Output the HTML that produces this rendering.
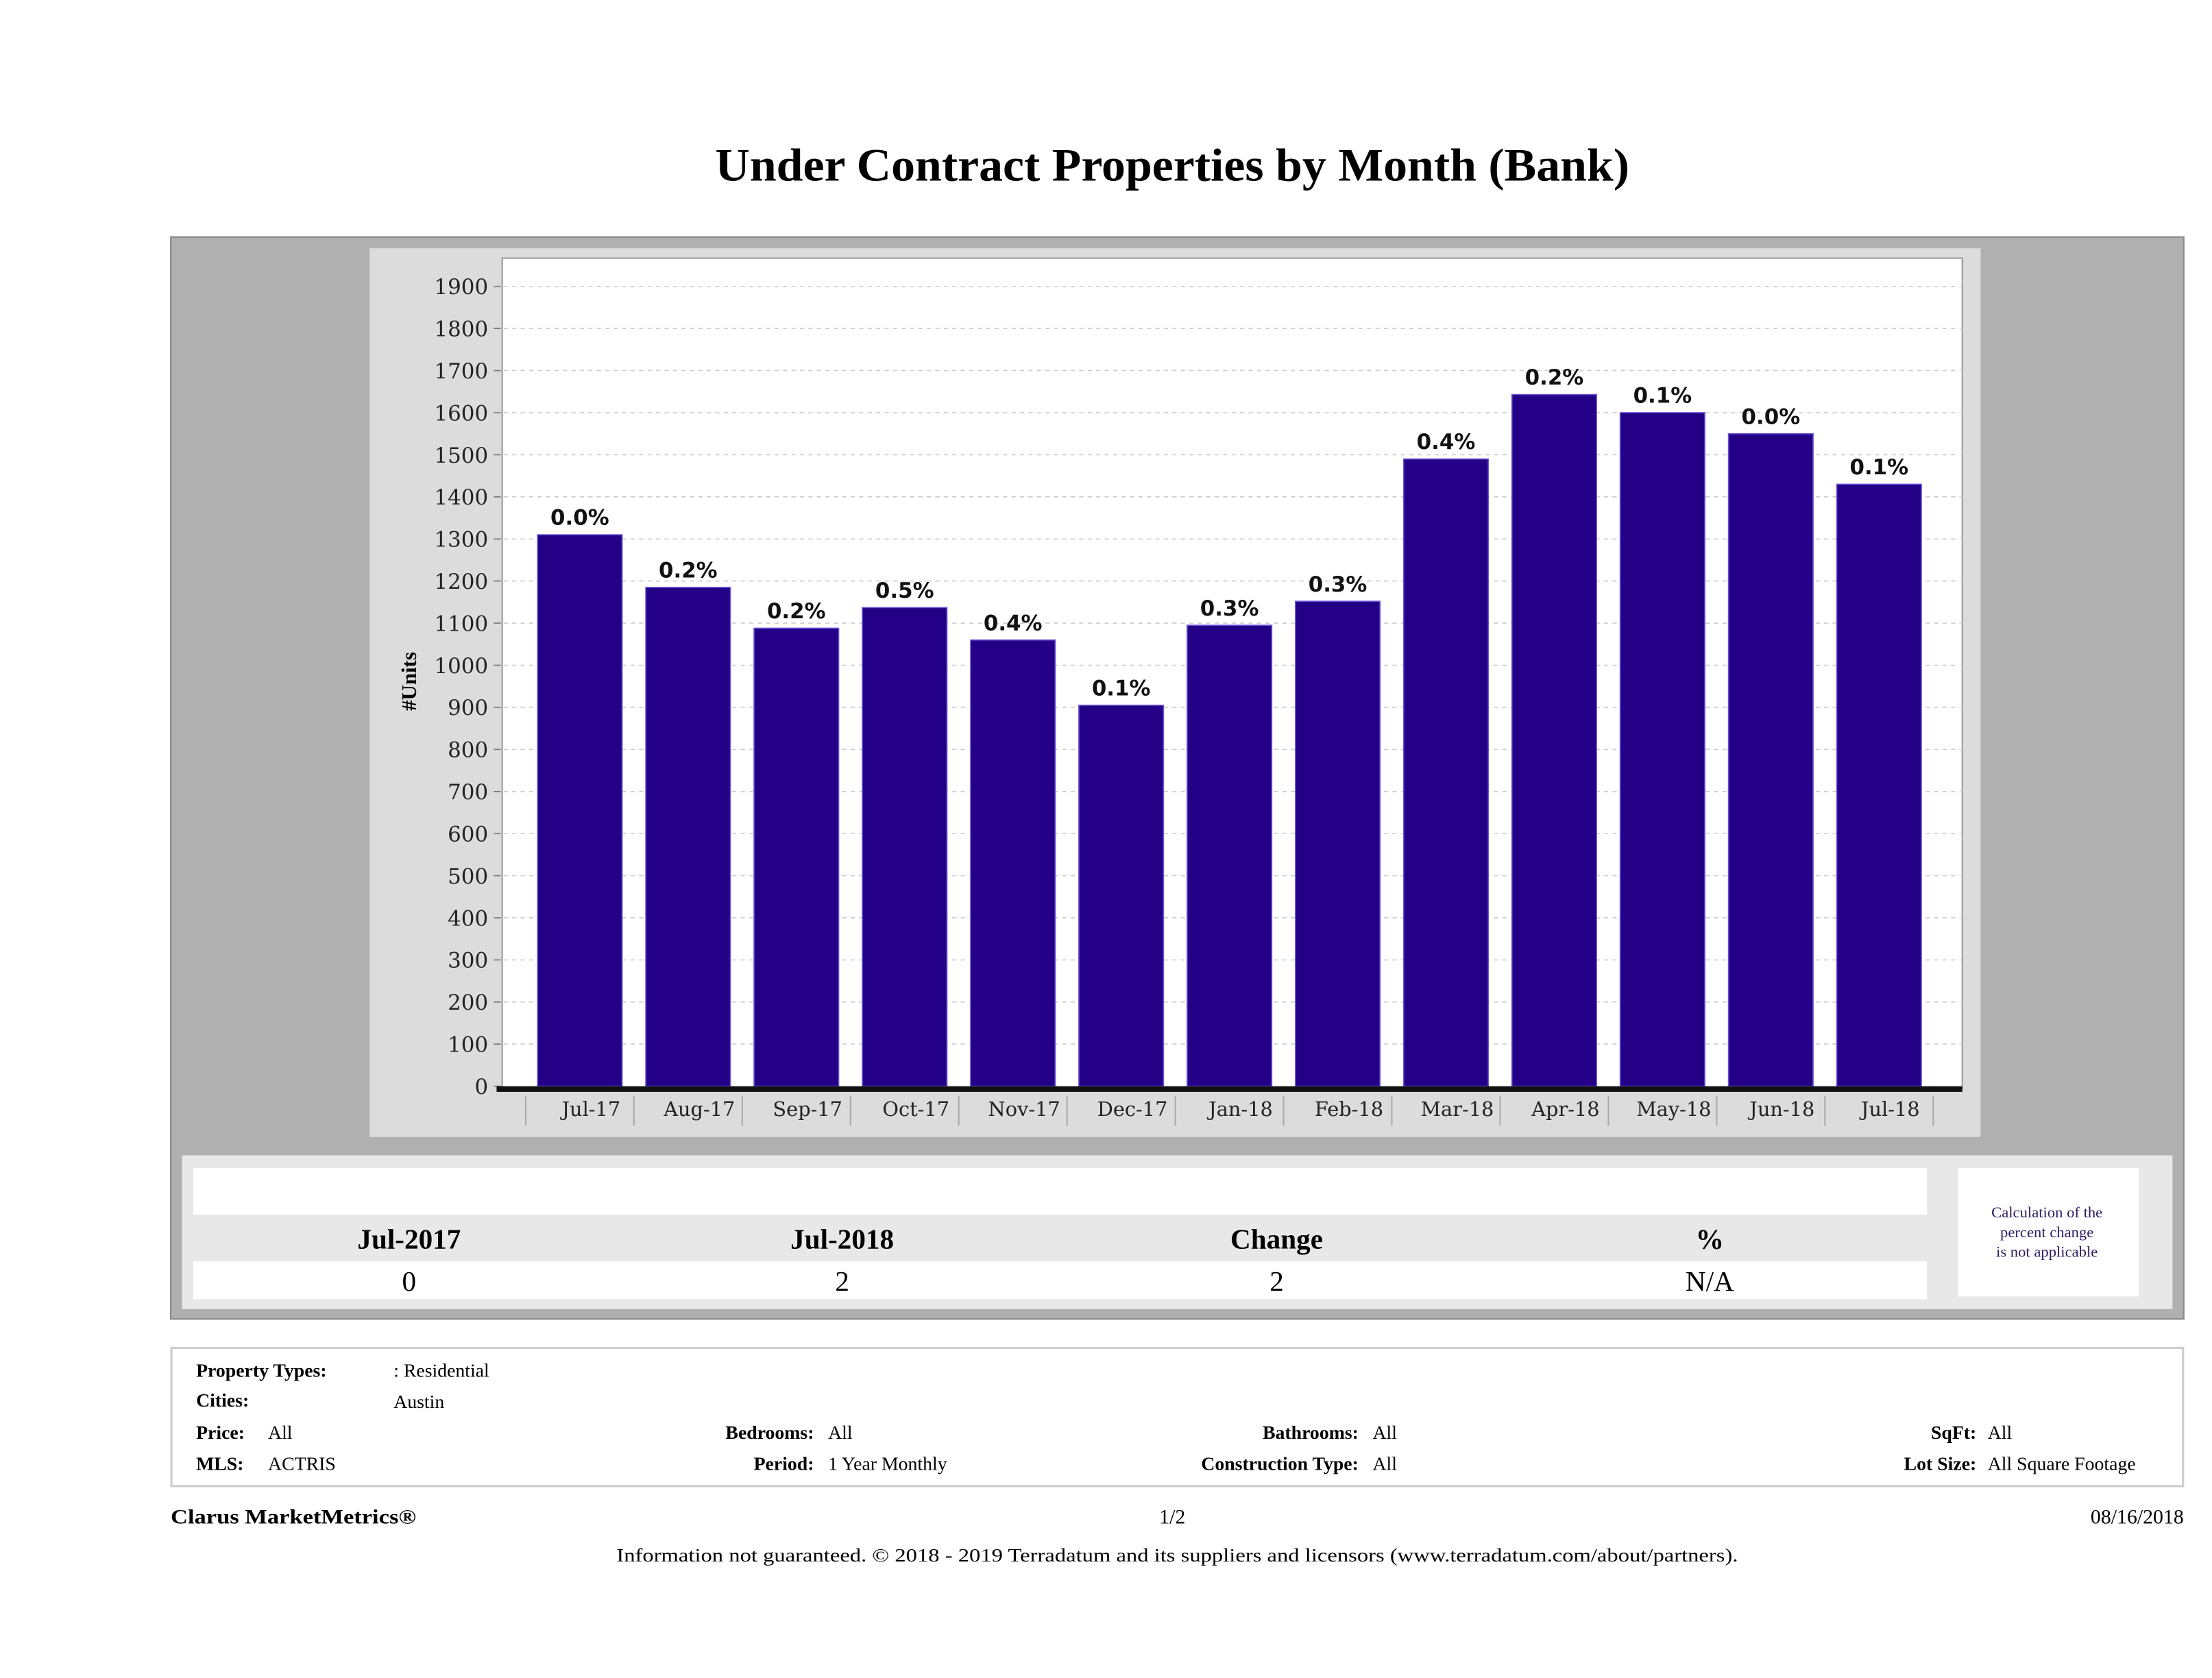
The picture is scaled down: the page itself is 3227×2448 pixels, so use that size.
<!DOCTYPE html>
<html><head><meta charset="utf-8"><style>
html,body{margin:0;padding:0;background:#fff}
svg{display:block}
</style></head><body>
<svg width="3227" height="2448" viewBox="0 0 1568 1189.5" xmlns="http://www.w3.org/2000/svg">
<text x="831" y="128" text-anchor="middle" font-family="Liberation Serif, serif" font-weight="bold" font-size="33" textLength="648" lengthAdjust="spacingAndGlyphs">Under Contract Properties by Month (Bank)</text>
<rect x="121" y="168" width="1427" height="767" fill="#b0b0b0" stroke="#888" stroke-width="1"/>
<rect x="262" y="176" width="1142" height="630" fill="#dcdcdc"/>
<rect x="356" y="183" width="1035" height="589" fill="#fff" stroke="#999" stroke-width="1"/>
<g id="grid"></g>
<g id="yticks"></g>
<g id="bars"></g>
<g id="xticks"></g>
<text transform="translate(295,483) rotate(-90)" text-anchor="middle" font-family="Liberation Serif, serif" font-weight="bold" font-size="15">#Units</text>

<rect x="129" y="819" width="1411" height="109" fill="#e8e8e8"/>
<rect x="137" y="828" width="1229" height="33" fill="#fff"/>
<rect x="137" y="894" width="1229" height="27" fill="#fff"/>
<g font-family="Liberation Serif, serif" font-size="20" text-anchor="middle">
<text x="290" y="885" font-weight="bold">Jul-2017</text>
<text x="597" y="885" font-weight="bold">Jul-2018</text>
<text x="905" y="885" font-weight="bold">Change</text>
<text x="1212" y="885" font-weight="bold">%</text>
<text x="290" y="915">0</text>
<text x="597" y="915">2</text>
<text x="905" y="915">2</text>
<text x="1212" y="915">N/A</text>
</g>
<rect x="1388" y="828" width="128" height="91" fill="#fff"/>
<g font-family="Liberation Serif, serif" font-size="11" fill="#2a1a60" text-anchor="middle">
<text x="1451" y="863">Calculation of the</text>
<text x="1451" y="877">percent change</text>
<text x="1451" y="891">is not applicable</text>
</g>

<rect x="121.5" y="955.5" width="1426" height="98" fill="#fff" stroke="#ccc" stroke-width="1.5"/>
<g font-family="Liberation Serif, serif" font-size="13.5">
<text x="139" y="976" font-weight="bold">Property Types:</text>
<text x="279" y="976">: Residential</text>
<text x="139" y="997" font-weight="bold">Cities:</text>
<text x="279" y="998">Austin</text>
<text x="139" y="1020" font-weight="bold">Price:</text>
<text x="190" y="1020">All</text>
<text x="139" y="1042" font-weight="bold">MLS:</text>
<text x="190" y="1042">ACTRIS</text>
<text x="577" y="1020" font-weight="bold" text-anchor="end">Bedrooms:</text>
<text x="587" y="1020">All</text>
<text x="577" y="1042" font-weight="bold" text-anchor="end">Period:</text>
<text x="587" y="1042">1 Year Monthly</text>
<text x="963" y="1020" font-weight="bold" text-anchor="end">Bathrooms:</text>
<text x="973" y="1020">All</text>
<text x="963" y="1042" font-weight="bold" text-anchor="end">Construction Type:</text>
<text x="973" y="1042">All</text>
<text x="1401" y="1020" font-weight="bold" text-anchor="end">SqFt:</text>
<text x="1409" y="1020">All</text>
<text x="1401" y="1042" font-weight="bold" text-anchor="end">Lot Size:</text>
<text x="1409" y="1042">All Square Footage</text>
</g>
<g font-family="Liberation Serif, serif" font-size="14.5">
<text x="121" y="1080" font-weight="bold" textLength="174" lengthAdjust="spacingAndGlyphs">Clarus MarketMetrics®</text>
<text x="831" y="1080" text-anchor="middle">1/2</text>
<text x="1548" y="1080" text-anchor="end">08/16/2018</text>
<text x="437" y="1107" font-size="13.5" textLength="795" lengthAdjust="spacingAndGlyphs">Information not guaranteed. © 2018 - 2019 Terradatum and its suppliers and licensors (www.terradatum.com/about/partners).</text>
</g>
</svg>
<script>
const categories = ["Jul-17","Aug-17","Sep-17","Oct-17","Nov-17","Dec-17","Jan-18","Feb-18","Mar-18","Apr-18","May-18","Jun-18","Jul-18"];
const unitValues = [1310,1185,1088,1137,1060,905,1095,1152,1490,1643,1600,1550,1430];
const pctLabels = ["0.0%","0.2%","0.2%","0.5%","0.4%","0.1%","0.3%","0.3%","0.4%","0.2%","0.1%","0.0%","0.1%"];
const yTicks = [0,100,200,300,400,500,600,700,800,900,1000,1100,1200,1300,1400,1500,1600,1700,1800,1900];

const NS = "http://www.w3.org/2000/svg";
const y0 = 770, yTop = 203, vMax = 1900;
function yScale(v){ return y0 - v*(y0-yTop)/vMax; }
const x0 = 411, step = 76.75, bw = 60;
function xScale(i){ return x0 + i*step; }
function mk(tag, attrs, parent){ const e=document.createElementNS(NS,tag); for(const k in attrs) e.setAttribute(k,attrs[k]); parent.appendChild(e); return e; }

const grid=document.getElementById('grid'), yt=document.getElementById('yticks'), bars=document.getElementById('bars'), xt=document.getElementById('xticks');
yTicks.forEach(v=>{
  const y=yScale(v);
  if(v>0){
    const g=mk('line',{x1:357,x2:1390,y1:y,y2:y,stroke:'#ccc','stroke-width':0.8,'stroke-dasharray':'3,3'},grid);
    
    
  }
  const tk=mk('line',{x1:350,x2:355,y1:y,y2:y,stroke:'#777','stroke-width':0.8},yt);
  
  
  const t=mk('text',{x:346,y:y+5.5,'text-anchor':'end','font-family':'DejaVu Serif, serif','font-size':15,fill:'#222'},yt);
  t.textContent=v;
  
  
});
categories.forEach((c,i)=>{
  const cx=xScale(i), top=yScale(unitValues[i]);
  const r=mk('rect',{x:cx-bw/2,y:top,width:bw,height:y0-top,fill:'#230085',stroke:'#6a55d8','stroke-width':0.8},bars);
  
  
  const l=mk('text',{x:cx,y:top-7,'text-anchor':'middle','font-family':'DejaVu Sans, sans-serif','font-weight':'bold','font-size':15,fill:'#111'},bars);
  l.textContent=pctLabels[i];
  
  
  const s=mk('line',{x1:cx-step/2,x2:cx-step/2,y1:777,y2:798,stroke:'#aaa','stroke-width':1},xt);
  
  
  const xl=mk('text',{x:cx+8,y:791,'text-anchor':'middle','font-family':'DejaVu Serif, serif','font-size':14,fill:'#222'},xt);
  xl.textContent=c;
  
  
});
const lastSep=mk('line',{x1:xScale(categories.length)-step/2,x2:xScale(categories.length)-step/2,y1:777,y2:798,stroke:'#aaa','stroke-width':1},xt);


const ax=mk('rect',{x:352,y:770,width:1039,height:4,fill:'#111'},xt);


</script>
</body></html>
